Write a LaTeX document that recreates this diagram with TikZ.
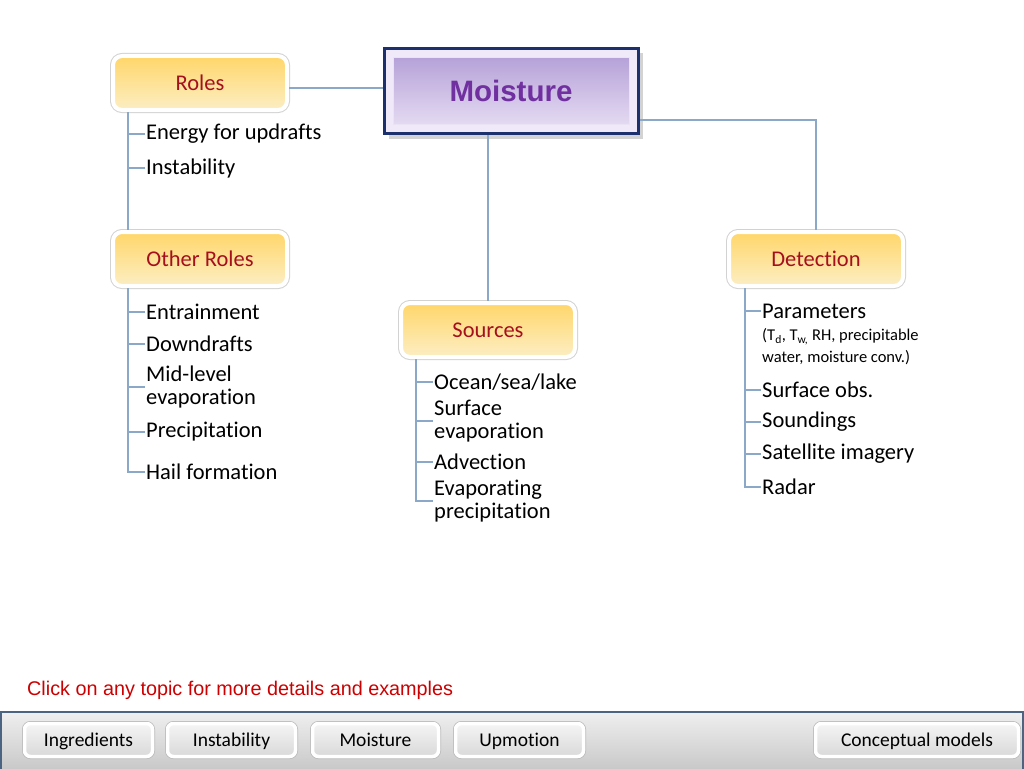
\documentclass[tikz,border=0pt]{standalone}
\usepackage{fontspec}
\setmainfont{Carlito}[Ligatures=NoCommon]
\newfontfamily\arialfont{Liberation Sans}
\usetikzlibrary{shadows}

\definecolor{linkblue}{RGB}{140,168,200}
\definecolor{topicred}{RGB}{165,15,30}
\definecolor{topictop}{RGB}{255,214,105}
\definecolor{topicbot}{RGB}{252,238,196}
\definecolor{frameblue}{RGB}{28,48,110}
\definecolor{mtop}{RGB}{182,162,216}
\definecolor{mbot}{RGB}{228,218,242}
\definecolor{mpurple}{RGB}{112,48,160}
\definecolor{barline}{RGB}{75,100,130}
\definecolor{hintred}{RGB}{204,0,0}

\tikzset{
  link/.style={draw=linkblue, line width=1.1pt},
  topic/.style={rounded corners=9pt, minimum width=174pt, minimum height=54pt, inner sep=0pt,
    top color=topictop, bottom color=topicbot, draw=white, line width=4pt,
    preaction={draw=gray!35, line width=6pt}, text height=14pt, text depth=0pt,
    text=topicred, font=\fontsize{22.5}{24}\selectfont},
  item/.style={anchor=west, inner sep=1pt, align=left, font=\fontsize{22.5}{23}\selectfont},
  subitem/.style={anchor=west, inner sep=1pt, align=left, font=\fontsize{16.5}{22}\selectfont},
  mframe/.style={minimum width=254pt, minimum height=85pt, inner sep=0pt,
    draw=frameblue, line width=3pt, fill={rgb,255:red,240;green,233;blue,250},
    drop shadow={shadow xshift=5pt, shadow yshift=-5pt, opacity=0.35}},
  mtitle/.style={minimum width=236pt, minimum height=67pt, inner sep=0pt,
    top color=mtop, bottom color=mbot, draw=white!70!mtop, line width=1pt,
    text=mpurple, font=\arialfont\bfseries\fontsize{29.5}{30}\selectfont},
  navbtn/.style={rounded corners=6pt, minimum height=33pt, inner sep=0pt,
    top color=gray!8, bottom color=gray!30, draw=white, line width=3.5pt,
    preaction={draw=gray!55, line width=5pt}, text height=12.5pt, text depth=0pt,
    font=\fontsize{19.5}{20}\selectfont}
}

\begin{document}
\begin{tikzpicture}[x=1pt, y=-1pt]
\useasboundingbox (0,0) rectangle (1024,768);

% central topic
\node[mframe] (mframe) at (511,91) {};
\node[mtitle] (moist) at (mframe) {Moisture};

% sub topics
\node[topic] (roles) at (200,83) {Roles};
\node[topic] (others) at (200,259) {Other Roles};
\node[topic] (sources) at (488,330) {Sources};
\node[topic] (detect) at (816,259) {Detection};

\draw[link] ([yshift=-5pt]roles.east) -- ([yshift=-5pt]roles.east -| mframe.west);
\draw[link] (sources.north) -- (sources.north |- mframe.south);
\draw[link] (detect.north) |- ([yshift=-29pt]mframe.east);

% roles
\coordinate (rtop) at ([xshift=17pt]roles.south west);
\node[item] (energy) at (145,134) {Energy for updrafts};
\node[item] (instab) at (145,168) {Instability};
\draw[link] (rtop) -- (rtop |- others.north);
\foreach \n in {energy,instab}
  \draw[link] (\n.west -| rtop) -- (\n.west);

% other roles
\coordinate (otop) at ([xshift=17pt]others.south west);
\node[item] (entrain) at (145,312) {Entrainment};
\node[item] (downd) at (145,344) {Downdrafts};
\node[item] (midlev) at (145,387) {Mid-level\\evaporation};
\node[item] (precip) at (145,432) {Precipitation};
\node[item] (hail) at (145,472) {Hail formation};
\draw[link] (otop) -- (hail.west -| otop) -- (hail.west);
\foreach \n in {entrain,downd,midlev,precip}
  \draw[link] (\n.west -| otop) -- (\n.west);

% sources
\coordinate (stop) at ([xshift=17pt]sources.south west);
\node[item] (ocean) at (433,382) {Ocean/sea/lake};
\node[item] (surfev) at (433,421) {Surface\\evaporation};
\node[item] (advect) at (433,462) {Advection};
\node[item] (evprec) at (433,501) {Evaporating\\precipitation};
\draw[link] (stop) -- (evprec.west -| stop) -- (evprec.west);
\foreach \n in {ocean,surfev,advect}
  \draw[link] (\n.west -| stop) -- (\n.west);

% detection
\coordinate (dtop) at ([xshift=18pt]detect.south west);
\node[item] (params) at (761,311) {Parameters};
\node[subitem] (pardet) at (761,347) {(T\textsubscript{d}, T\textsubscript{w,} RH, precipitable\\water, moisture conv.)};
\node[item] (surfob) at (761,390) {Surface obs.};
\node[item] (sound) at (761,422) {Soundings};
\node[item] (satel) at (761,454) {Satellite imagery};
\node[item] (radar) at (761,487) {Radar};
\draw[link] (dtop) -- (radar.west -| dtop) -- (radar.west);
\foreach \n in {params,surfob,sound,satel}
  \draw[link] (\n.west -| dtop) -- (\n.west);

% hint
\node[anchor=west, inner sep=0pt, text=hintred, font=\arialfont\fontsize{19.8}{22}\selectfont]
  (hint) at (27,690) {Click on any topic for more details and examples};

% navigation bar
\shade[top color=gray!12, bottom color=gray!42] (0,711) rectangle (1024,768);
\draw[barline, line width=2pt] (1,769) -- (1,712) -- (1023,712) -- (1023,769);
\node[navbtn, minimum width=128pt] (bingr) at (88.5,740) {Ingredients};
\node[navbtn, minimum width=128pt] (binst) at (231.5,740) {Instability};
\node[navbtn, minimum width=126pt] (bmoist) at (375.5,740) {Moisture};
\node[navbtn, minimum width=128pt] (bupm) at (519.5,740) {Upmotion};
\node[navbtn, minimum width=203pt] (bconc) at (917,740) {Conceptual models};
\end{tikzpicture}
\end{document}
